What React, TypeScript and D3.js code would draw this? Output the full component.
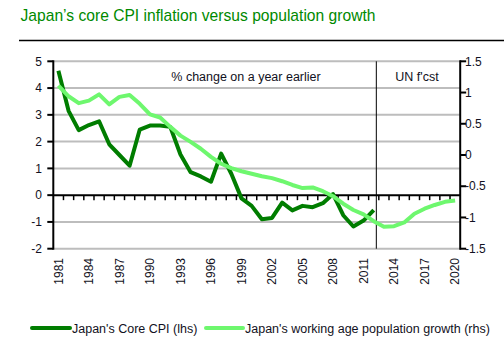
import React from 'react';
import * as d3 from 'd3';

// Years on the category axis
const years: number[] = d3.range(1981, 2021);
const tickYears: number[] = [1981, 1984, 1987, 1990, 1993, 1996, 1999, 2002, 2005, 2008, 2011, 2014, 2017, 2020];

// Japan's core CPI, % y/y (lhs), 1981-2012
const cpi: number[] = [
  4.65, 3.15, 2.43, 2.62, 2.76, 1.9, 1.5, 1.1, 2.45, 2.6,
  2.6, 2.55, 1.52, 0.86, 0.7, 0.5, 1.55, 0.8, -0.12, -0.4,
  -0.9, -0.85, -0.28, -0.57, -0.4, -0.45, -0.3, 0.04, -0.75, -1.17,
  -0.95, -0.56,
];

// Working age population growth, % y/y (rhs), 1981-2020
const pop: number[] = [
  1.11, 0.94, 0.83, 0.87, 0.97, 0.81, 0.93, 0.96, 0.82, 0.65,
  0.6, 0.45, 0.31, 0.21, 0.1, -0.03, -0.14, -0.21, -0.26, -0.3,
  -0.34, -0.37, -0.42, -0.48, -0.53, -0.52, -0.58, -0.66, -0.78, -0.88,
  -0.95, -1.06, -1.15, -1.14, -1.08, -0.94, -0.86, -0.8, -0.75, -0.73,
];

const leftTicks: number[] = [-2, -1, 0, 1, 2, 3, 4, 5];
const rightTicks: number[] = [-1.5, -1, -0.5, 0, 0.5, 1, 1.5];
const forecastStart = 2013;

const W = 504;
const H = 361;
const plotLeft = 53.3;
const plotRight = 460.2;
const plotTop = 61.3;
const plotBottom = 248.7;

const DARK = '#007d00';
const LIGHT = '#6ef76e';
const TEXT = '#111122';
const FONT = '"Liberation Sans", Arial, sans-serif';

const App: React.FC = () => {
  const x = d3.scaleBand<number>().domain(years).range([plotLeft, plotRight]);
  const bw = x.bandwidth();
  const cx = (yr: number) => (x(yr) ?? 0) + bw / 2;

  const yL = d3.scaleLinear().domain([-2, 5]).range([plotBottom, plotTop]);
  const yR = d3.scaleLinear().domain([-1.5, 1.5]).range([plotBottom, plotTop]);

  const cpiLine = d3
    .line<number>()
    .x((_, i) => cx(years[i]))
    .y(d => yL(d));
  const popLine = d3
    .line<number>()
    .x((_, i) => cx(years[i]))
    .y(d => yR(d));

  const zeroY = yL(0);
  const fcX = (x(forecastStart) ?? 0) - 2.5;

  return (
    <svg width={W} height={H} style={{ position: 'absolute', left: 0, top: 0 }} fontFamily={FONT}>
      <rect width={W} height={H} fill="#fff" />
      <text x={20.5} y={21} fontSize={17} fill="#008a00" textLength={355} lengthAdjust="spacingAndGlyphs">
        Japan’s core CPI inflation versus population growth
      </text>
      <line x1={19} x2={W} y1={40.5} y2={40.5} stroke="#000" strokeWidth={1.5} />

      {/* gridlines from left axis */}
      {leftTicks.filter(t => t !== 0).map(t => (
        <line key={t} x1={plotLeft} x2={plotRight} y1={yL(t)} y2={yL(t)} stroke="#bdbdbd" strokeWidth={2} />
      ))}

      {/* forecast divider */}
      <line x1={fcX} x2={fcX} y1={plotTop} y2={plotBottom} stroke="#000" strokeWidth={1} />
      <text x={246} y={81} fontSize={12.5} fill={TEXT} textAnchor="middle">% change on a year earlier</text>
      <text x={417} y={81} fontSize={12.5} fill={TEXT} textAnchor="middle">UN f'cst</text>

      {/* zero line with category ticks */}
      <line x1={plotLeft} x2={plotRight} y1={zeroY} y2={zeroY} stroke="#000" strokeWidth={2} />
      {years.slice(1).map(yr => (
        <line key={yr} x1={x(yr)} x2={x(yr)} y1={zeroY} y2={zeroY + 5} stroke="#000" strokeWidth={1.5} />
      ))}

      {/* left axis */}
      <line x1={plotLeft} x2={plotLeft} y1={plotTop - 1} y2={plotBottom + 1} stroke="#000" strokeWidth={2} />
      {leftTicks.map(t => (
        <g key={t}>
          <line x1={plotLeft - 6} x2={plotLeft} y1={yL(t)} y2={yL(t)} stroke="#000" strokeWidth={2} />
          <text x={42} y={yL(t)} dy="0.35em" fontSize={12} fill={TEXT} textAnchor="end">{t}</text>
        </g>
      ))}

      {/* right axis */}
      <line x1={plotRight} x2={plotRight} y1={plotTop - 1} y2={plotBottom + 1} stroke="#000" strokeWidth={2} />
      {rightTicks.map(t => (
        <g key={t}>
          <line x1={plotRight} x2={plotRight + 6} y1={yR(t)} y2={yR(t)} stroke="#000" strokeWidth={2} />
          <text x={465} y={yR(t)} dy="0.35em" fontSize={12} fill={TEXT}>{t}</text>
        </g>
      ))}

      {/* x labels */}
      {tickYears.map(yr => (
        <text key={yr} transform={`translate(${cx(yr) + 4.3},258) rotate(-90)`} fontSize={12} fill={TEXT} textAnchor="end">
          {yr}
        </text>
      ))}

      {/* series */}
      <path d={cpiLine(cpi) ?? ''} fill="none" stroke={DARK} strokeWidth={4} strokeLinejoin="round" />
      <path d={popLine(pop) ?? ''} fill="none" stroke={LIGHT} strokeWidth={4} strokeLinejoin="round" />

      {/* legend */}
      <line x1={32} x2={70} y1={328} y2={328} stroke={DARK} strokeWidth={4} strokeLinecap="round" />
      <text x={72} y={332.5} fontSize={12.5} fill={TEXT}>Japan's Core CPI (lhs)</text>
      <line x1={206} x2={243} y1={328} y2={328} stroke={LIGHT} strokeWidth={4} strokeLinecap="round" />
      <text x={245} y={332.5} fontSize={12.5} fill={TEXT}>Japan's working age population growth (rhs)</text>
    </svg>
  );
};

export default App;
